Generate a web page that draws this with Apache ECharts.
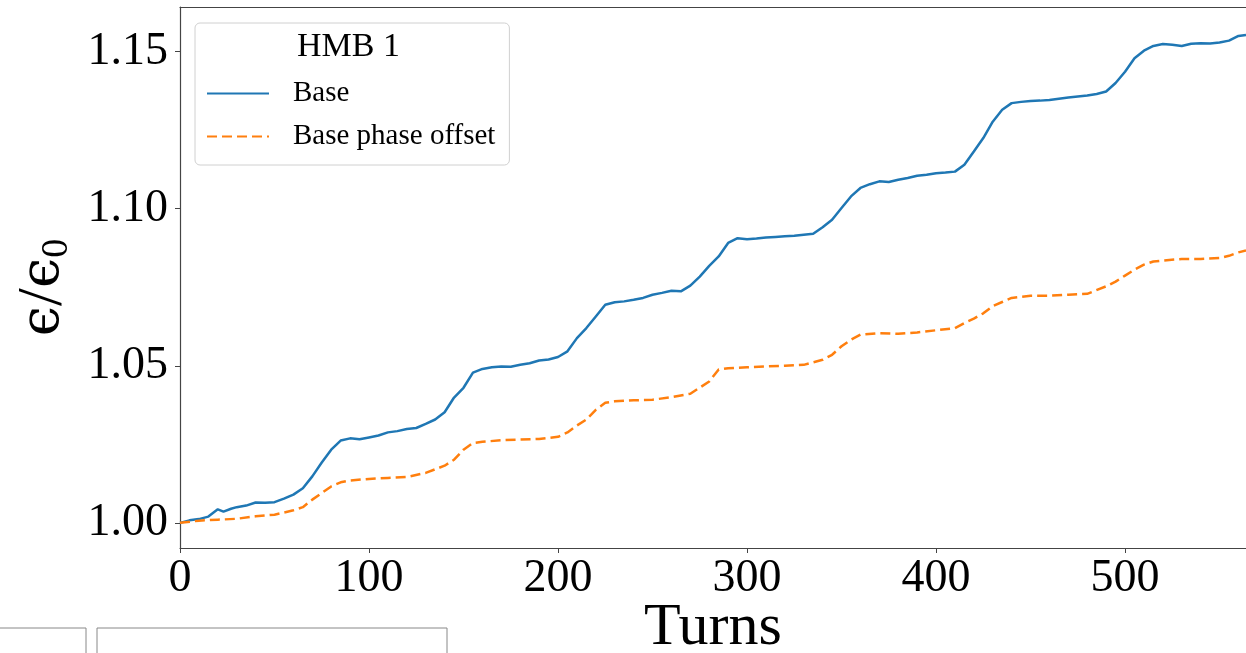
<!DOCTYPE html>
<html>
<head>
<meta charset="utf-8">
<script src="https://cdn.jsdelivr.net/npm/echarts@6/dist/echarts.min.js"></script>
<style>
html,body{margin:0;padding:0;background:#fff;}
#chart{width:1246px;height:653px;}
</style>
</head>
<body>
<div id="chart"></div>
<script>
const seriesNames = ['Base', 'Base phase offset'];
const legendTitle = 'HMB 1';
const xTicks = [0, 100, 200, 300, 400, 500];
const yTicks = [1.00, 1.05, 1.10, 1.15];

const baseTurns = [0,5,10,15,20,23,27,30,35,40,45,50,55,60,65,70,75,80,85,90,95,100,105,110,115,120,125,130,135,140,145,150,155,160,165,170,175,180,185,190,195,200,205,210,215,220,225,230,235,240,245,250,255,260,265,270,275,280,285,290,295,300,305,310,315,320,325,330,335,340,345,350,355,360,365,370,375,380,385,390,395,400,405,410,415,420,425,430,435,440,445,450,455,460,465,470,475,480,485,490,495,500,505,510,515,520,525,530,535,540,545,550,555,560,564];
const baseValues = [1.000,1.0008,1.0012,1.002,1.0043,1.0036,1.0045,1.005,1.0055,1.0065,1.0064,1.0066,1.0077,1.009,1.011,1.0148,1.0192,1.0233,1.0262,1.0269,1.0266,1.0272,1.0278,1.0288,1.0292,1.0299,1.0302,1.0315,1.0329,1.0352,1.0399,1.043,1.0478,1.049,1.0495,1.0498,1.0497,1.0503,1.0508,1.0517,1.052,1.0528,1.0546,1.0588,1.062,1.0657,1.0694,1.0702,1.0705,1.071,1.0716,1.0726,1.0732,1.0739,1.0737,1.0755,1.0784,1.0818,1.0848,1.0891,1.0906,1.0903,1.0905,1.0908,1.091,1.0912,1.0914,1.0917,1.092,1.0941,1.0965,1.1002,1.1039,1.1066,1.1078,1.1087,1.1085,1.1092,1.1098,1.1105,1.1108,1.1113,1.1115,1.1118,1.114,1.1182,1.1225,1.1277,1.1315,1.1336,1.134,1.1343,1.1344,1.1346,1.135,1.1354,1.1357,1.136,1.1365,1.1373,1.14,1.1436,1.1479,1.1503,1.1518,1.1524,1.1522,1.1518,1.1525,1.1527,1.1526,1.1529,1.1535,1.155,1.1553];

const offsetTurns = [0,10,20,30,40,50,60,65,70,75,80,85,90,100,110,120,130,140,145,150,155,160,170,180,190,200,205,210,215,220,225,230,240,250,260,270,280,285,290,300,310,320,330,340,345,350,355,360,370,380,390,400,410,415,420,425,430,435,440,450,460,470,480,490,495,500,505,510,515,520,530,540,550,555,560,564];
const offsetValues = [1.000,1.0007,1.001,1.0013,1.0021,1.0026,1.004,1.005,1.0074,1.0095,1.0116,1.0129,1.0135,1.014,1.0143,1.0146,1.0159,1.0182,1.0201,1.0233,1.0254,1.0258,1.0263,1.0265,1.0267,1.0274,1.0288,1.031,1.0329,1.036,1.0382,1.0387,1.039,1.0392,1.04,1.0411,1.045,1.0488,1.0492,1.0495,1.0498,1.05,1.0503,1.0519,1.0535,1.0562,1.0583,1.0599,1.0604,1.0602,1.0606,1.0613,1.062,1.0636,1.065,1.0667,1.069,1.0703,1.0716,1.0723,1.0723,1.0726,1.0729,1.0753,1.0768,1.0787,1.0806,1.0822,1.0832,1.0835,1.084,1.084,1.0843,1.085,1.0861,1.0867];

const serif = '"Liberation Serif", "DejaVu Serif", serif';
const pair = (xs, ys) => xs.map((x, i) => [x, ys[i]]);

const chart = echarts.init(document.getElementById('chart'), null, {renderer: 'canvas'});
chart.setOption({
  animation: false,
  backgroundColor: '#fff',
  grid: {left: 180, top: 7, right: 0, bottom: 105, containLabel: false, outerBoundsMode: 'none'},
  xAxis: [{
    type: 'value', min: 0, max: 564,
    name: 'Turns', nameLocation: 'middle', nameGap: 50, nameMoveOverlap: false,
    nameTextStyle: {fontFamily: serif, fontSize: 60, color: '#000'},
    axisLine: {show: true, lineStyle: {color: '#444', width: 1.2}},
    axisTick: {show: true, inside: false, length: 5, customValues: xTicks, lineStyle: {color: '#444'}},
    axisLabel: {customValues: xTicks, fontFamily: serif, fontSize: 46, color: '#000', margin: 8},
    splitLine: {show: false}
  }, {
    type: 'value', min: 0, max: 564, position: 'top',
    axisLine: {show: true, onZero: false, lineStyle: {color: '#444', width: 1.2}},
    axisTick: {show: false}, axisLabel: {show: false}, splitLine: {show: false}
  }],
  yAxis: {
    type: 'value', min: 0.992, max: 1.1642,
    name: '{e|ϵ}{s|/}{e|ϵ}{sub|0}', nameLocation: 'middle', nameGap: 104, nameRotate: 90, nameMoveOverlap: false,
    nameTextStyle: {
      fontFamily: serif, fontSize: 56, color: '#000', padding: [0, 20, 0, 0],
      rich: {
        e: {fontFamily: '"DejaVu Serif", serif', fontSize: 54, color: '#000'},
        s: {fontFamily: serif, fontSize: 64, color: '#000'},
        sub: {fontFamily: serif, fontSize: 38, color: '#000', verticalAlign: 'bottom', padding: [22, 0, 0, 0]}
      }
    },
    axisLine: {show: true, lineStyle: {color: '#444', width: 1.2}},
    axisTick: {show: true, inside: false, length: 5, customValues: yTicks, lineStyle: {color: '#444'}},
    axisLabel: {customValues: yTicks, formatter: v => v.toFixed(2), fontFamily: serif, fontSize: 46, color: '#000', margin: 12},
    splitLine: {show: false}
  },
  legend: {
    data: seriesNames, orient: 'vertical', left: 195, top: 23,
    padding: [56, 14, 14, 11], itemGap: 14, itemWidth: 62, itemHeight: 16,
    backgroundColor: '#fff', borderColor: '#d0d0d0', borderWidth: 1, borderRadius: 5,
    itemStyle: {opacity: 0, borderWidth: 0},
    textStyle: {fontFamily: serif, fontSize: 29, color: '#000', lineHeight: 28, padding: [0, 0, 0, 19]}
  },
  graphic: [
    {type: 'text', left: 297, top: 30, z: 100,
     style: {text: legendTitle, fontFamily: serif, fontSize: 34, fill: '#000'}},
    {type: 'rect', shape: {x: -2, y: 628, width: 88, height: 40}, style: {fill: 'none', stroke: '#888', lineWidth: 1}},
    {type: 'rect', shape: {x: 97, y: 628, width: 350, height: 40}, style: {fill: 'none', stroke: '#888', lineWidth: 1}}
  ],
  series: [{
    name: seriesNames[0], type: 'line', data: pair(baseTurns, baseValues),
    showSymbol: false, symbol: 'none', smooth: false,
    lineStyle: {color: '#1f77b4', width: 2.5}, itemStyle: {color: '#1f77b4'}
  }, {
    name: seriesNames[1], type: 'line', data: pair(offsetTurns, offsetValues),
    showSymbol: false, symbol: 'none', smooth: false,
    lineStyle: {color: '#ff7f0e', width: 2.5, type: [10, 5]}, itemStyle: {color: '#ff7f0e'}
  }]
});
</script>
</body>
</html>
